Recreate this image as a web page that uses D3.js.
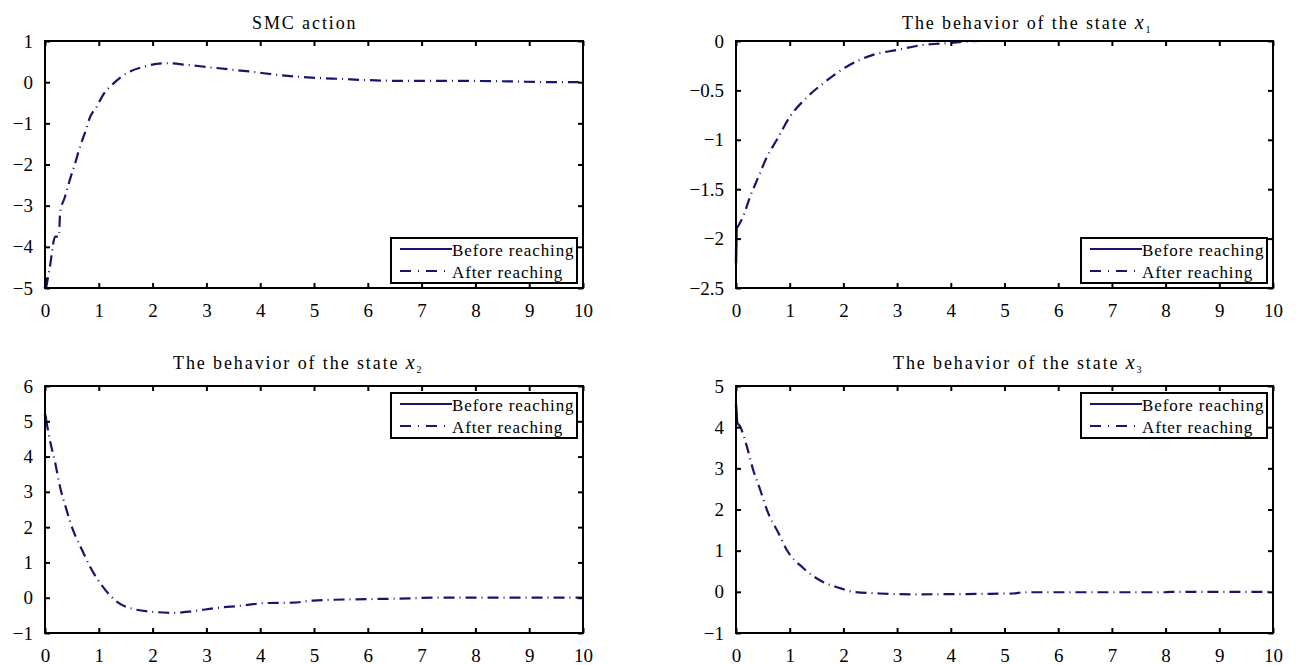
<!DOCTYPE html>
<html>
<head>
<meta charset="utf-8">
<script src="https://cdn.jsdelivr.net/npm/d3@7"></script>
<style>
body { margin: 0; background: #fff; }
</style>
</head>
<body>
<div id="chart"></div>
<script>
// time axis ticks, shared by all four panels
var xTicks = [0, 1, 2, 3, 4, 5, 6, 7, 8, 9, 10];

// SMC action
var smcBeforeT = [0, 0.02];
var smcBeforeV = [-5.0, -4.75];
var smcAfterT = [0.02, 0.09, 0.19, 0.26, 0.28, 0.37, 0.46, 0.56, 0.65, 0.74, 0.84, 0.96, 1.08, 1.3, 1.52, 1.82, 2.26, 2.64, 3.0, 3.5, 3.87, 4.3, 4.74, 5.1, 5.48, 5.98, 6.73, 7.84, 8.6, 9.4, 10];
var smcAfterV = [-5.0, -4.49, -3.75, -3.75, -3.18, -2.79, -2.38, -1.97, -1.57, -1.24, -0.84, -0.6, -0.31, 0.0, 0.22, 0.37, 0.46, 0.42, 0.37, 0.30, 0.25, 0.18, 0.13, 0.1, 0.08, 0.05, 0.03, 0.03, 0.02, 0.0, 0.0];
var smcYTicks = [-5, -4, -3, -2, -1, 0, 1];

// state x1
var x1BeforeT = [0, 0.01];
var x1BeforeV = [-2.25, -1.9];
var x1AfterT = [0.01, 0.13, 0.26, 0.39, 0.58, 0.76, 1.0, 1.32, 1.62, 2.06, 2.55, 3.0, 3.48, 3.98, 4.54, 5.2, 6, 7, 8, 9, 10];
var x1AfterV = [-1.9, -1.78, -1.58, -1.41, -1.17, -1.0, -0.77, -0.57, -0.43, -0.26, -0.14, -0.09, -0.04, -0.02, 0, 0, 0, 0, 0, 0, 0];
var x1YTicks = [-2.5, -2, -1.5, -1, -0.5, 0];

// state x2
var x2BeforeT = [0, 0.02];
var x2BeforeV = [5.2, 5.05];
var x2AfterT = [0.02, 0.09, 0.19, 0.28, 0.4, 0.52, 0.69, 0.84, 1.08, 1.34, 1.64, 2.01, 2.38, 2.75, 3.19, 3.62, 4.12, 4.61, 4.98, 5.98, 6.78, 7.2, 8, 9, 10];
var x2AfterV = [5.05, 4.47, 3.82, 3.14, 2.49, 1.92, 1.35, 0.87, 0.30, -0.12, -0.32, -0.4, -0.43, -0.38, -0.29, -0.23, -0.15, -0.14, -0.08, -0.04, -0.02, 0, 0, 0, 0];
var x2YTicks = [-1, 0, 1, 2, 3, 4, 5, 6];

// state x3
var x3BeforeT = [0, 0.02];
var x3BeforeV = [4.55, 4.1];
var x3AfterT = [0.02, 0.07, 0.2, 0.32, 0.45, 0.6, 0.79, 0.95, 1.25, 1.62, 1.94, 2.18, 2.68, 3.3, 4.54, 5.16, 5.35, 6, 7, 7.95, 8.1, 9, 10];
var x3AfterV = [4.1, 4.03, 3.54, 2.96, 2.48, 1.91, 1.43, 1.01, 0.58, 0.24, 0.09, 0.0, -0.04, -0.06, -0.05, -0.04, -0.01, -0.01, -0.01, -0.01, 0, 0, 0];
var x3YTicks = [-1, 0, 1, 2, 3, 4, 5];

var legendLabels = ["Before reaching", "After reaching"];

var svgWidth = 1296;
var svgHeight = 665;
var lineColor = "#16166e";
var serif = "'Liberation Serif', 'Times New Roman', 'DejaVu Serif', serif";

var svg = d3.select("#chart")
            .append("svg")
            .attr("width", svgWidth)
            .attr("height", svgHeight)
            .attr("font-family", serif);

function zip(ts, vs) {
    return ts.map(function(t, i) { return {t: t, v: vs[i]}; });
}

var panels = [
    {title: "SMC action", sub: null, box: [45, 41, 583, 288], titleX: 252, titleY: 29,
     yTicks: smcYTicks, before: zip(smcBeforeT, smcBeforeV), after: zip(smcAfterT, smcAfterV), legendAt: "bottom"},
    {title: "The behavior of the state ", sub: "1", box: [736, 41, 1273, 288], titleX: 902, titleY: 29,
     yTicks: x1YTicks, before: zip(x1BeforeT, x1BeforeV), after: zip(x1AfterT, x1AfterV), legendAt: "bottom"},
    {title: "The behavior of the state ", sub: "2", box: [45, 386, 583, 633], titleX: 173, titleY: 369,
     yTicks: x2YTicks, before: zip(x2BeforeT, x2BeforeV), after: zip(x2AfterT, x2AfterV), legendAt: "top"},
    {title: "The behavior of the state ", sub: "3", box: [736, 386, 1273, 633], titleX: 893, titleY: 369,
     yTicks: x3YTicks, before: zip(x3BeforeT, x3BeforeV), after: zip(x3AfterT, x3AfterV), legendAt: "top"}
];

panels.forEach(function(p) {
    var left = p.box[0], top = p.box[1], right = p.box[2], bottom = p.box[3];
    var w = right - left, h = bottom - top;

    var xScale = d3.scaleLinear().domain([0, 10]).range([0, w]);
    var yScale = d3.scaleLinear()
                   .domain([d3.min(p.yTicks), d3.max(p.yTicks)])
                   .range([h, 0]);

    var g = svg.append("g").attr("transform", `translate(${left}, ${top})`);

    // curves
    var line = d3.line()
                 .x(d => xScale(d.t))
                 .y(d => yScale(d.v))
                 .curve(d3.curveMonotoneX);

    g.append("path")
     .datum(p.after)
     .attr("d", line)
     .attr("fill", "none")
     .attr("stroke", lineColor)
     .attr("stroke-width", 2.2)
     .attr("stroke-dasharray", "11,5,1,5");

    g.append("path")
     .datum(p.before)
     .attr("d", line)
     .attr("fill", "none")
     .attr("stroke", "#0a0a40")
     .attr("stroke-width", 2.5);

    // axes: labelled bottom/left, plain top/right, ticks inward
    var xb = g.append("g").attr("transform", `translate(0, ${h})`)
              .call(d3.axisBottom(xScale).tickValues(xTicks).tickSizeInner(-5).tickSizeOuter(0).tickPadding(16).tickFormat(d3.format("d")));
    var yl = g.append("g")
              .call(d3.axisLeft(yScale).tickValues(p.yTicks).tickSizeInner(-5).tickSizeOuter(0).tickPadding(12).tickFormat(d3.format("")));
    var xt = g.append("g")
              .call(d3.axisTop(xScale).tickValues(xTicks).tickSizeInner(-5).tickSizeOuter(0).tickFormat(""));
    var yr = g.append("g").attr("transform", `translate(${w}, 0)`)
              .call(d3.axisRight(yScale).tickValues(p.yTicks).tickSizeInner(-5).tickSizeOuter(0).tickFormat(""));

    [xb, yl, xt, yr].forEach(function(ax) {
        ax.attr("font-family", serif).attr("font-size", 19);
        ax.select(".domain").remove();
        ax.selectAll(".tick line").attr("stroke", "#000").attr("stroke-width", 2);
        ax.selectAll("text").attr("fill", "#000");
    });
    xb.selectAll("text").attr("dy", "0.71em");

    g.append("rect")
     .attr("width", w)
     .attr("height", h)
     .attr("fill", "none")
     .attr("stroke", "#000")
     .attr("stroke-width", 2);

    // title
    var title = svg.append("text")
                   .attr("x", p.titleX)
                   .attr("y", p.titleY)
                   .attr("font-size", 18)
                   .style("letter-spacing", "1.9px")
                   .text(p.title);
    if (p.sub) {
        title.append("tspan").attr("font-style", "italic").attr("font-size", 20).text("x");
        title.append("tspan").attr("dy", 4).attr("font-size", 10).text(p.sub);
    }

    // legend
    var lw = 186, lh = 45;
    var lx = w - 6 - lw;
    var ly = p.legendAt === "bottom" ? h - 5 - lh : 7;
    var lg = g.append("g").attr("transform", `translate(${lx}, ${ly})`);
    lg.append("rect")
      .attr("width", lw)
      .attr("height", lh)
      .attr("fill", "#fff")
      .attr("stroke", "#000")
      .attr("stroke-width", 2);
    legendLabels.forEach(function(lab, i) {
        var yy = 11 + i * 22;
        lg.append("line")
          .attr("x1", 9).attr("x2", 61)
          .attr("y1", yy).attr("y2", yy)
          .attr("stroke", lineColor)
          .attr("stroke-width", 2)
          .attr("stroke-dasharray", i === 0 ? null : "11,7,1,7");
        lg.append("text")
          .attr("x", 61)
          .attr("y", yy + 7)
          .attr("font-size", 17)
          .style("letter-spacing", "0.9px")
          .text(lab);
    });
});
</script>
</body>
</html>
